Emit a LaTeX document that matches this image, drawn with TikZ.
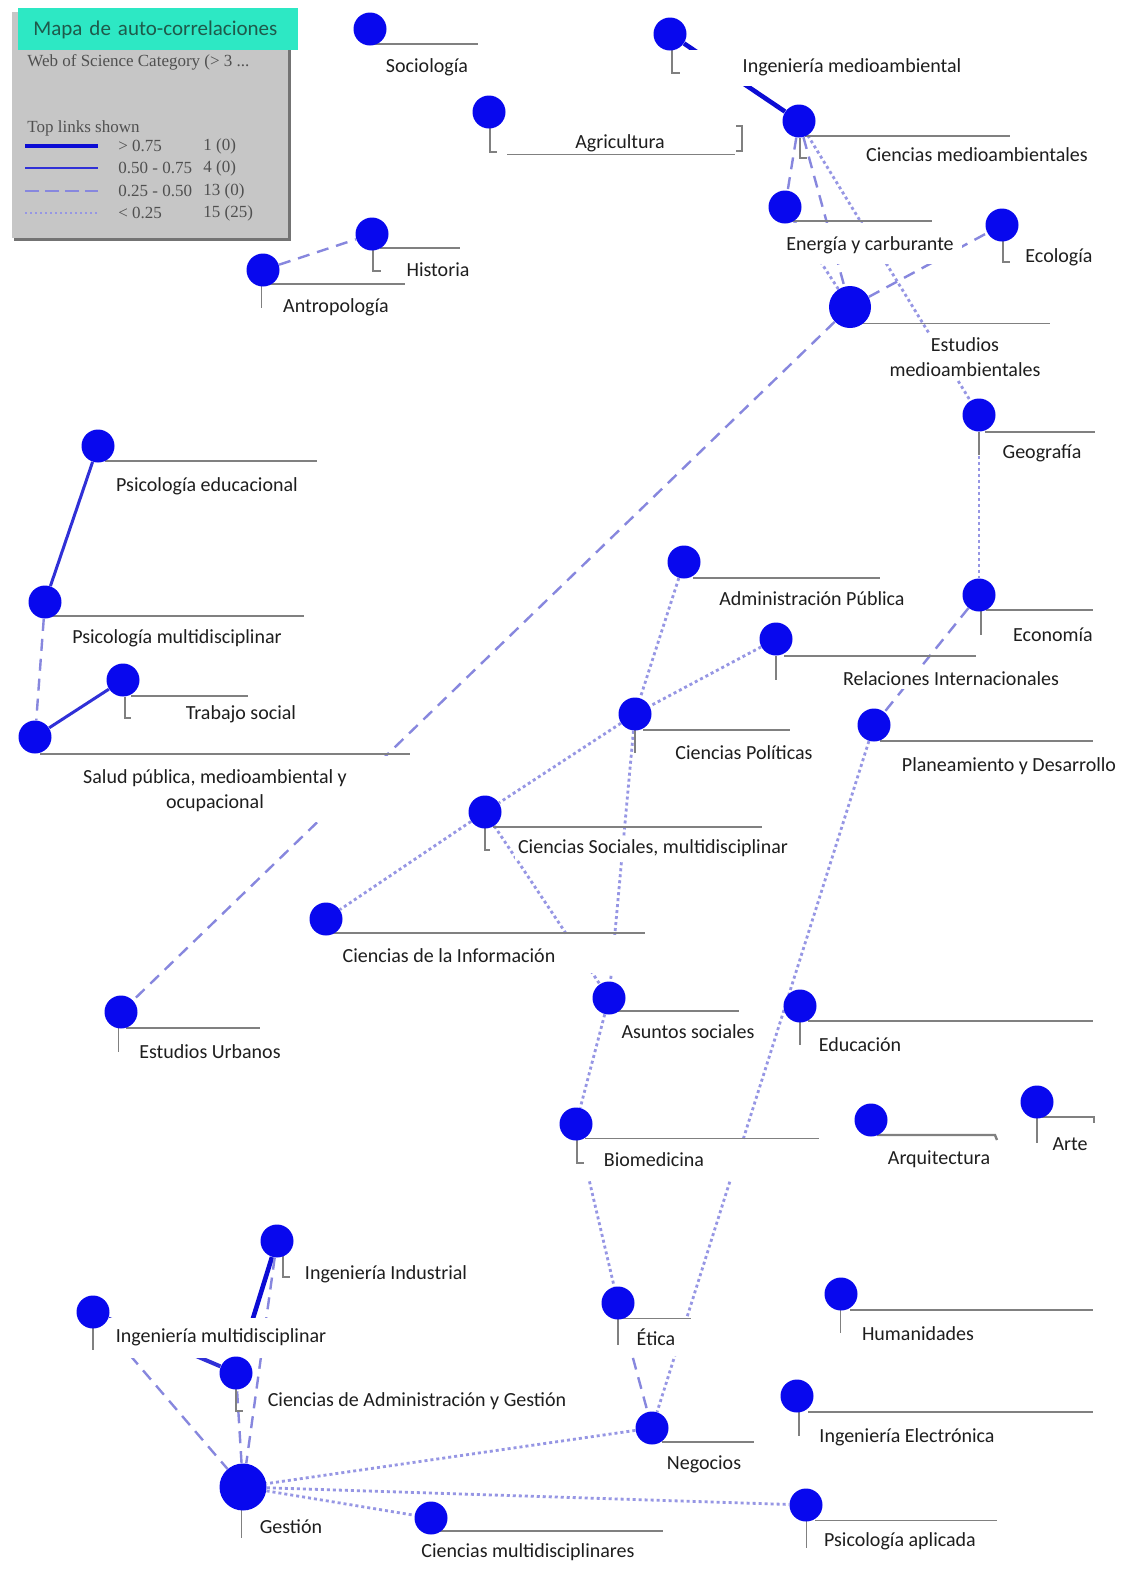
\documentclass[tikz,border=0pt]{standalone}
\usepackage{fontspec}
\setmainfont{Carlito}
\newfontfamily\legendfont{Liberation Serif}
\pgfdeclarelayer{paper}
\pgfdeclarelayer{edges}
\pgfdeclarelayer{cover}
\pgfsetlayers{paper,edges,cover,main}

\definecolor{nodeblue}{RGB}{8,8,238}
\definecolor{strongblue}{RGB}{12,12,212}
\definecolor{midblue}{RGB}{48,48,215}
\definecolor{dashblue}{RGB}{135,135,222}
\definecolor{dotblue}{RGB}{150,150,228}
\definecolor{rulegray}{RGB}{128,128,128}
\definecolor{headteal}{RGB}{45,232,196}
\definecolor{headtext}{RGB}{30,90,75}
\definecolor{legendgray}{RGB}{198,198,198}
\definecolor{legendtext}{RGB}{80,80,80}
\definecolor{labeltext}{RGB}{30,30,30}

\tikzset{
  cat/.style={circle, fill=nodeblue, inner sep=0pt, minimum size=16.5pt},
  bigcat/.style={cat, minimum size=21pt},
  lbl/.style={font=\fontsize{10pt}{12.6pt}\selectfont, text=labeltext, fill=white, inner sep=1.5pt},
  twolbl/.style={lbl, align=center},
  mask/.style={fill=white},
  gline/.style={draw=rulegray, line width=1pt},
  hairline/.style={draw=rulegray, line width=0.5pt},
  strong/.style={draw=strongblue, line width=2.3pt},
  medium/.style={draw=midblue, line width=1.5pt},
  weak/.style={draw=dashblue, line width=1.2pt, dash pattern=on 6pt off 4pt},
  faint/.style={draw=dotblue, line width=1.4pt, dash pattern=on 1.5pt off 1.5pt},
  legtxt/.style={font=\legendfont\fontsize{8.5pt}{10pt}\selectfont, text=legendtext, inner sep=0pt, anchor=west}
}

\begin{document}
\begin{tikzpicture}[x=0.5pt,y=-0.5pt]
\useasboundingbox (0,0) rectangle (1127,1586);
\begin{pgfonlayer}{paper}
  \fill[white] (0,0) rectangle (1127,1586);
\end{pgfonlayer}

% ---------- legend panel ----------
\fill[legendgray] (12,12) rectangle (288,238);
\draw[black!55, line width=1.5pt] (14,239) -- (289,239) -- (289,40);
\node[fill=headteal, anchor=north west, text width=125pt, inner xsep=7.5pt, inner ysep=0pt,
      minimum height=21pt, align=left, text=headtext,
      font=\fontsize{10.5pt}{12pt}\selectfont] (head) at (18,8) {Mapa de auto-correlaciones};
\node[legtxt] (wos) at (27,62) {Web of Science Category (> 3 ...};
\node[legtxt] (tls) at (27,128) {Top links shown};
\draw[draw=strongblue, line width=1.6pt] (25,146) -- (98,146);
\draw[draw=midblue, line width=1pt] (25,168) -- (98,168);
\draw[draw=dashblue, line width=1pt, dash pattern=on 7pt off 3pt] (25,191) -- (98,191);
\draw[draw=dotblue, line width=1pt, dash pattern=on 1pt off 1.5pt] (25,213) -- (98,213);
\node[legtxt] (r1) at (118,146) {> 0.75};
\node[legtxt] (r2) at (118,168) {0.50 - 0.75};
\node[legtxt] (r3) at (118,191) {0.25 - 0.50};
\node[legtxt] (r4) at (118,213) {< 0.25};
\node[legtxt] (c1) at (203,146) {1 (0)};
\node[legtxt] (c2) at (203,168) {4 (0)};
\node[legtxt] (c3) at (203,191) {13 (0)};
\node[legtxt] (c4) at (203,213) {15 (25)};

% ---------- underlines and brackets of the categories ----------
\draw[gline] (372,44) -- (478,44);
\draw[gline] (672,48) -- (672,73) -- (680,73);
\draw[gline] (490,128) -- (490,152) -- (497,152);
\draw[hairline] (507,154) -- (735,154);
\draw[gline] (736,126) -- (742,126) -- (742,151) -- (736,151);
\draw[hairline, line width=0.7pt] (805,136) -- (1010,136);
\draw[gline] (800,138) -- (800,158) -- (807,158);
\draw[gline, line width=1.3pt] (790,221) -- (932,221);
\draw[gline] (1003,240) -- (1003,262) -- (1010,262);
\draw[gline] (380,248) -- (460,248);
\draw[gline] (373,249) -- (373,271) -- (381,271);
\draw[gline] (268,284) -- (405,284);
\draw[hairline] (261,286) -- (261,308);
\draw[hairline] (860,323) -- (1050,323);
\draw[gline] (985,432) -- (1095,432);
\draw[gline] (979,432) -- (979,455);
\draw[gline] (105,461) -- (317,461);
\draw[hairline, line width=0.7pt] (52,616) -- (304,616);
\draw[hairline, line width=0.7pt] (131,696) -- (248,696);
\draw[gline] (125,697) -- (125,718) -- (131,718);
\draw[gline, line width=1.4pt] (40,754) -- (410,754);
\draw[gline] (693,578) -- (880,578);
\draw[gline] (986,610) -- (1093,610);
\draw[gline] (981,611) -- (981,635);
\draw[gline] (784,656) -- (976,656);
\draw[gline] (776,656) -- (776,680);
\draw[gline] (643,730) -- (790,730);
\draw[gline] (635,730) -- (635,753);
\draw[gline] (880,741) -- (1093,741);
\draw[gline] (493,827) -- (762,827);
\draw[gline] (485,828) -- (485,850) -- (490,850);
\draw[gline, line width=1.3pt] (333,933) -- (645,933);
\draw[gline] (126,1028) -- (260,1028);
\draw[hairline] (118,1028) -- (118,1052);
\draw[gline] (617,1011) -- (739,1011);
\draw[gline, line width=1.2pt] (808,1021) -- (1093,1021);
\draw[gline] (800,1021) -- (800,1045);
\draw[hairline] (585,1138) -- (819,1138);
\draw[gline] (577,1139) -- (577,1163) -- (584,1163);
\draw[gline, line width=1.2pt] (877,1135) -- (995,1135) -- (997,1140);
\draw[gline] (1042,1117) -- (1094,1117) -- (1094,1123);
\draw[gline] (1037,1118) -- (1037,1143);
\draw[gline] (283,1256) -- (283,1277) -- (290,1277);
\draw[gline] (93,1327) -- (93,1350);
\draw[gline] (236,1388) -- (236,1411) -- (243,1411);
\draw[hairline] (622,1318) -- (691,1318);
\draw[gline] (618,1318) -- (618,1345);
\draw[gline, line width=1.2pt] (850,1310) -- (1093,1310);
\draw[hairline] (840,1310) -- (840,1333);
\draw[gline, line width=1.2pt] (808,1412) -- (1093,1412);
\draw[gline] (799,1412) -- (799,1436);
\draw[gline] (662,1442) -- (754,1442);
\draw[hairline] (241,1508) -- (241,1538);
\draw[gline] (440,1531) -- (663,1531);
\draw[hairline] (815,1520) -- (997,1520);
\draw[hairline] (806,1520) -- (806,1548);

% ---------- categories ----------
\node[cat] (soc) at (370,29) {};
\node[cat] (ingmed) at (670,34) {};
\node[cat] (agr) at (489,112) {};
\node[cat] (cmed) at (799,121) {};
\node[cat] (energ) at (785,207) {};
\node[cat] (ecol) at (1002,225) {};
\node[cat] (hist) at (372,234) {};
\node[cat] (antro) at (263,270) {};
\node[bigcat] (estmed) at (850,307) {};
\node[cat] (geo) at (979,415) {};
\node[cat] (psied) at (98,446) {};
\node[cat] (psimul) at (45,602) {};
\node[cat] (trab) at (123,680) {};
\node[cat] (salud) at (35,737) {};
\node[cat] (adpub) at (684,562) {};
\node[cat] (econ) at (979,595) {};
\node[cat] (relint) at (776,639) {};
\node[cat] (cpol) at (635,714) {};
\node[cat] (plan) at (874,725) {};
\node[cat] (csoc) at (485,812) {};
\node[cat] (cinf) at (326,919) {};
\node[cat] (eurb) at (121,1012) {};
\node[cat] (asun) at (609,998) {};
\node[cat] (educ) at (800,1006) {};
\node[cat] (biom) at (576,1124) {};
\node[cat] (arq) at (871,1120) {};
\node[cat] (arte) at (1037,1102) {};
\node[cat] (ingind) at (277,1241) {};
\node[cat] (ingmul) at (93,1312) {};
\node[cat] (cadm) at (236,1373) {};
\node[cat] (etica) at (618,1303) {};
\node[cat] (human) at (841,1294) {};
\node[cat] (ingel) at (797,1396) {};
\node[cat] (neg) at (652,1428) {};
\node[bigcat, minimum size=23.5pt] (gest) at (243,1487) {};
\node[cat] (cmul) at (431,1518) {};
\node[cat] (psiap) at (806,1505) {};

% ---------- labels (white backs hide the links behind them) ----------
\begin{pgfonlayer}{cover}
  \fill[mask] (688,50) rectangle (985,86);
  \fill[mask] (40,756) rectangle (410,822);
  \fill[mask] (570,1140) rectangle (815,1180);
  \fill[mask] (333,935) rectangle (645,973);
  \fill[mask] (790,223) rectangle (962,264);
  \fill[mask] (620,1319) rectangle (695,1356);
  \fill[mask] (100,1318) rectangle (335,1358);
  \node[lbl] (socL) at (427,67) {Sociología};
  \node[lbl] (ingmedL) at (852,67) {Ingeniería medioambiental};
  \node[lbl] (agrL) at (620,143) {Agricultura};
  \node[lbl] (cmedL) at (977,155) {Ciencias medioambientales};
  \node[lbl] (energL) at (870,245) {Energía y carburante};
  \node[lbl] (ecolL) at (1059,257) {Ecología};
  \node[lbl] (histL) at (438,270) {Historia};
  \node[lbl] (antroL) at (336,307) {Antropología};
  \node[twolbl] (estmedL) at (965,357) {Estudios\\medioambientales};
  \node[lbl] (geoL) at (1042,453) {Geografía};
  \node[lbl] (psiedL) at (207,486) {Psicología educacional};
  \node[lbl] (psimulL) at (177,638) {Psicología multidisciplinar};
  \node[lbl] (trabL) at (241,714) {Trabajo social};
  \node[twolbl] (saludL) at (215,791) {Salud pública, medioambiental y\\ocupacional};
  \node[lbl] (adpubL) at (812,599) {Administración Pública};
  \node[lbl] (econL) at (1053,635) {Economía};
  \node[lbl] (relintL) at (951,679) {Relaciones Internacionales};
  \node[lbl] (cpolL) at (744,753) {Ciencias Políticas};
  \node[lbl] (planL) at (1009,766) {Planeamiento y Desarrollo};
  \node[lbl] (csocL) at (653,848) {Ciencias Sociales, multidisciplinar};
  \node[lbl] (cinfL) at (449,956) {Ciencias de la Información};
  \node[lbl] (eurbL) at (210,1052) {Estudios Urbanos};
  \node[lbl] (asunL) at (688,1032) {Asuntos sociales};
  \node[lbl] (educL) at (860,1045) {Educación};
  \node[lbl] (biomL) at (654,1160) {Biomedicina};
  \node[lbl] (arqL) at (939,1159) {Arquitectura};
  \node[lbl] (arteL) at (1070,1144) {Arte};
  \node[lbl] (ingindL) at (386,1274) {Ingeniería Industrial};
  \node[lbl] (ingmulL) at (221,1337) {Ingeniería multidisciplinar};
  \node[lbl] (cadmL) at (417,1401) {Ciencias de Administración y Gestión};
  \node[lbl] (eticaL) at (656,1337) {Ética};
  \node[lbl] (humanL) at (918,1334) {Humanidades};
  \node[lbl] (ingelL) at (907,1437) {Ingeniería Electrónica};
  \node[lbl] (negL) at (704,1464) {Negocios};
  \node[lbl] (gestL) at (291,1527) {Gestión};
  \node[lbl] (cmulL) at (528,1552) {Ciencias multidisciplinares};
  \node[lbl] (psiapL) at (900,1541) {Psicología aplicada};
\end{pgfonlayer}

% ---------- links ----------
\begin{pgfonlayer}{edges}
  % > 0.75 and 0.50 - 0.75
  \draw[strong] (ingind) -- (cadm);
  \draw[strong] (ingmed) -- (cmed);
  \draw[medium] (psied) -- (psimul);
  \draw[medium] (trab) -- (salud);
  \draw[medium, line width=2pt] (ingmul) -- (cadm);
  % 0.25 - 0.50
  \draw[weak] (antro) -- (hist);
  \draw[weak] (psimul) -- (salud);
  \draw[weak] (estmed) -- (eurb);
  \draw[weak] (estmed) -- (ecol);
  \draw[weak] (cmed) -- (energ);
  \draw[weak] (cmed) -- (estmed);
  \draw[weak] (econ) -- (plan);
  \draw[weak] (etica) -- (neg);
  \draw[weak] (gest) -- (cadm);
  \draw[weak] (ingind) -- (gest);
  \draw[weak] (ingmul) -- (gest);
  % < 0.25
  \draw[faint] (cmed) -- (geo);
  \draw[faint] (energ) -- (estmed);
  \draw[faint] (geo) -- (econ);
  \draw[faint] (plan) -- (neg);
  \draw[faint] (adpub) -- (cpol);
  \draw[faint] (relint) -- (cpol);
  \draw[faint] (cpol) -- (csoc);
  \draw[faint] (cpol) -- (asun);
  \draw[faint] (csoc) -- (asun);
  \draw[faint] (csoc) -- (cinf);
  \draw[faint] (asun) -- (biom);
  \draw[faint] (biom) -- (etica);
  \draw[faint] (neg) -- (gest);
  \draw[faint] (gest) -- (psiap);
  \draw[faint] (gest) -- (cmul);
\end{pgfonlayer}
\end{tikzpicture}
\end{document}
